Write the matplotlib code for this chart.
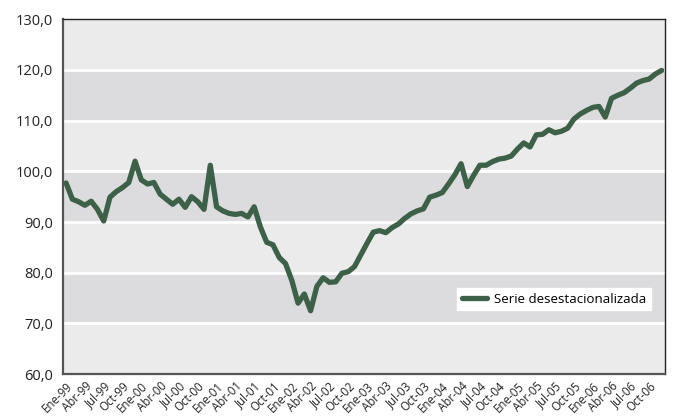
import matplotlib
matplotlib.use("Agg")
import matplotlib.pyplot as plt
from matplotlib.ticker import FuncFormatter

# Monthly index, Ene-99 .. Dic-06
meses = ['Ene', 'Feb', 'Mar', 'Abr', 'May', 'Jun', 'Jul', 'Ago', 'Sep', 'Oct', 'Nov', 'Dic']
anios = ['99', '00', '01', '02', '03', '04', '05', '06']
etiquetas = [f'{m}-{a}' for a in anios for m in meses]

serie = [
    97.7, 94.5, 94.0, 93.3, 94.1, 92.5, 90.2, 94.9, 96.0, 96.8, 97.8, 102.0,   # 1999
    98.3, 97.5, 97.8, 95.5, 94.5, 93.5, 94.5, 92.9, 95.0, 94.0, 92.5, 101.2,   # 2000
    93.0, 92.2, 91.7, 91.5, 91.7, 91.0, 93.0, 89.0, 86.0, 85.5, 83.0, 81.8,    # 2001
    78.5, 74.0, 75.8, 72.5, 77.3, 79.0, 78.1, 78.2, 79.9, 80.2, 81.2, 83.5,    # 2002
    85.8, 88.0, 88.3, 87.9, 88.9, 89.6, 90.7, 91.6, 92.2, 92.6, 94.9, 95.3,    # 2003
    95.8, 97.5, 99.3, 101.5, 97.0, 99.2, 101.2, 101.2, 101.9, 102.4, 102.6, 103.0,  # 2004
    104.4, 105.6, 104.8, 107.2, 107.3, 108.2, 107.6, 107.9, 108.5, 110.3, 111.3, 112.0,  # 2005
    112.6, 112.8, 110.7, 114.4, 115.0, 115.5, 116.4, 117.4, 117.9, 118.2, 119.2, 119.9,  # 2006
]

plt.rcParams['font.family'] = ['Open Sans', 'DejaVu Sans']

fig = plt.figure(figsize=(6.77, 4.18), dpi=100)
ax = fig.add_axes([0.093, 0.105, 0.889, 0.849])

x = list(range(len(serie)))
ax.set_xlim(-0.5, len(serie) - 0.5)
ax.set_ylim(60, 130)

# alternating horizontal bands with white separators
claro, oscuro = '#ebebeb', '#dcdcde'
for k, y0 in enumerate(range(60, 130, 10)):
    ax.axhspan(y0, y0 + 10, color=claro if k % 2 == 0 else oscuro, lw=0, zorder=0)
for y0 in range(70, 130, 10):
    ax.axhline(y0, color='white', lw=2, zorder=1)

ax.plot(x, serie, color='#3d6048', lw=3.8, solid_joinstyle='round',
        solid_capstyle='round', label='Serie desestacionalizada', zorder=3)

ax.set_yticks(range(60, 131, 10))
ax.yaxis.set_major_formatter(FuncFormatter(lambda v, p: f'{v:.1f}'.replace('.', ',')))
ax.set_xticks(x[::3])
ax.set_xticklabels(etiquetas[::3], rotation=45, ha='right', rotation_mode='anchor',
                   fontsize=8.3, color='#222222')
ax.tick_params(axis='y', length=0, pad=7, labelsize=10.5, labelcolor='#222222')
ax.tick_params(axis='x', length=0, pad=4)

for lado in ['left', 'bottom']:
    ax.spines[lado].set_color('#555555')
    ax.spines[lado].set_linewidth(1.6)
for lado in ['top', 'right']:
    ax.spines[lado].set_color('#222222')
    ax.spines[lado].set_linewidth(1.0)

leg = ax.legend(loc='lower right', bbox_to_anchor=(0.977, 0.18), fontsize=9.6,
                frameon=True, fancybox=False, handlelength=1.9, handletextpad=0.5,
                borderpad=0.35, borderaxespad=0)
leg.get_frame().set_facecolor('white')
leg.get_frame().set_edgecolor('white')
leg.get_frame().set_alpha(1)

fig.savefig('out.png', dpi=100)
